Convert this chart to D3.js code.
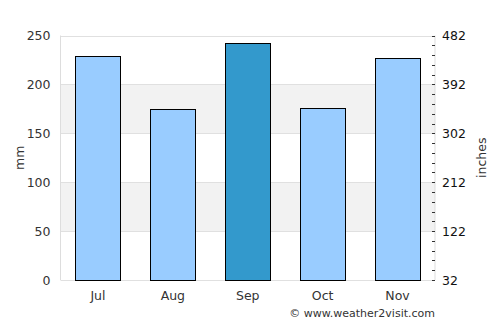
<!DOCTYPE html>
<html>
<head>
<meta charset="utf-8">
<script src="https://cdn.jsdelivr.net/npm/d3@7"></script>
<style>
  body { margin: 0; background: #fff; }
  text { font-family: "DejaVu Sans", sans-serif; }
</style>
</head>
<body>
<div id="chart"></div>
<script>
var months = ["Jul", "Aug", "Sep", "Oct", "Nov"];
var rainMm = [229, 175, 242, 176, 227];
var highlight = ["Sep"];
var leftTicks = [0, 50, 100, 150, 200, 250];
var rightTickLabels = ["32", "122", "212", "302", "392", "482"];

var width = 500, height = 325;
var margin = {top: 35.5, right: 65, bottom: 45, left: 60.5};

var svg = d3.select("#chart")
	.append("svg")
	.attr("width", width)
	.attr("height", height);

var x = d3.scaleBand()
	.domain(months)
	.range([margin.left, width - margin.right])
	.paddingInner(0.4)
	.paddingOuter(0.2);

var y = d3.scaleLinear()
	.domain([0, 250])
	.range([height - margin.bottom, margin.top]);

// alternating background bands
var bands = [[50, 100], [150, 200]];
svg.selectAll("rect.band")
	.data(bands)
	.enter()
	.append("rect")
	.attr("class", "band")
	.attr("x", margin.left)
	.attr("width", width - margin.right - margin.left)
	.attr("y", function(d) { return y(d[1]); })
	.attr("height", function(d) { return y(d[0]) - y(d[1]); })
	.attr("fill", "#f2f2f2");

// gridlines
svg.selectAll("line.grid")
	.data(leftTicks)
	.enter()
	.append("line")
	.attr("class", "grid")
	.attr("x1", margin.left)
	.attr("x2", width - margin.right)
	.attr("y1", function(d) { return Math.round(y(d)) + 0.5; })
	.attr("y2", function(d) { return Math.round(y(d)) + 0.5; })
	.attr("stroke", "#e0e0e0");

// plot frame sides
svg.append("line")
	.attr("x1", margin.left).attr("x2", margin.left)
	.attr("y1", y(250)).attr("y2", y(0))
	.attr("stroke", "#dddddd");
svg.append("line")
	.attr("x1", width - margin.right).attr("x2", width - margin.right)
	.attr("y1", y(250)).attr("y2", y(0))
	.attr("stroke", "#dddddd");

// bars
svg.selectAll("rect.bar")
	.data(months)
	.enter()
	.append("rect")
	.attr("class", "bar")
	.attr("x", function(d) { return Math.round(x(d)) + 0.5; })
	.attr("width", Math.round(x.bandwidth()))
	.attr("y", function(d, i) { return Math.round(y(rainMm[i])) + 0.5; })
	.attr("height", function(d, i) { return Math.round(y(0)) - Math.round(y(rainMm[i])); })
	.attr("fill", function(d) { return highlight.indexOf(d) >= 0 ? "#3399cc" : "#99ccff"; })
	.attr("stroke", "#000")
	.attr("stroke-width", 1);

// left axis
var leftAxis = d3.axisLeft(y).tickValues(leftTicks).tickSize(0).tickPadding(10);
var gl = svg.append("g")
	.attr("transform", "translate(" + margin.left + ",0)")
	.call(leftAxis);
gl.select(".domain").remove();
gl.selectAll("text").attr("font-size", 12.5).attr("fill", "#333").attr("font-family", "DejaVu Sans");

// right axis with minor ticks
var minor = d3.range(0, 251, 10);
svg.selectAll("line.minor")
	.data(minor)
	.enter()
	.append("line")
	.attr("class", "minor")
	.attr("x1", width - margin.right - 3)
	.attr("x2", width - margin.right)
	.attr("y1", function(d) { return Math.round(y(d)) + 0.5; })
	.attr("y2", function(d) { return Math.round(y(d)) + 0.5; })
	.attr("stroke", "#333");

var rightAxis = d3.axisRight(y).tickValues(leftTicks).tickSize(0).tickPadding(7)
	.tickFormat(function(d, i) { return rightTickLabels[i]; });
var gr = svg.append("g")
	.attr("transform", "translate(" + (width - margin.right) + ",0)")
	.call(rightAxis);
gr.select(".domain").remove();
gr.selectAll("text").attr("font-size", 12.5).attr("fill", "#111").attr("font-family", "DejaVu Sans");

// x axis
var xAxis = d3.axisBottom(x).tickSize(0).tickPadding(11);
var gx = svg.append("g")
	.attr("transform", "translate(0," + (height - margin.bottom) + ")")
	.call(xAxis);
gx.select(".domain").remove();
gx.selectAll("text").attr("font-size", 12.5).attr("fill", "#333").attr("font-family", "DejaVu Sans");

// axis titles
svg.append("text")
	.attr("transform", "translate(24," + y(125) + ") rotate(-90)")
	.attr("text-anchor", "middle")
	.attr("font-size", 12.5)
	.attr("fill", "#333")
	.text("mm");
svg.append("text")
	.attr("transform", "translate(486," + y(125) + ") rotate(-90)")
	.attr("text-anchor", "middle")
	.attr("font-size", 12.5)
	.attr("fill", "#333")
	.text("inches");

svg.append("text")
	.attr("x", 435)
	.attr("y", 317)
	.attr("text-anchor", "end")
	.attr("font-size", 11)
	.attr("fill", "#333")
	.text("© www.weather2visit.com");
</script>
</body>
</html>
